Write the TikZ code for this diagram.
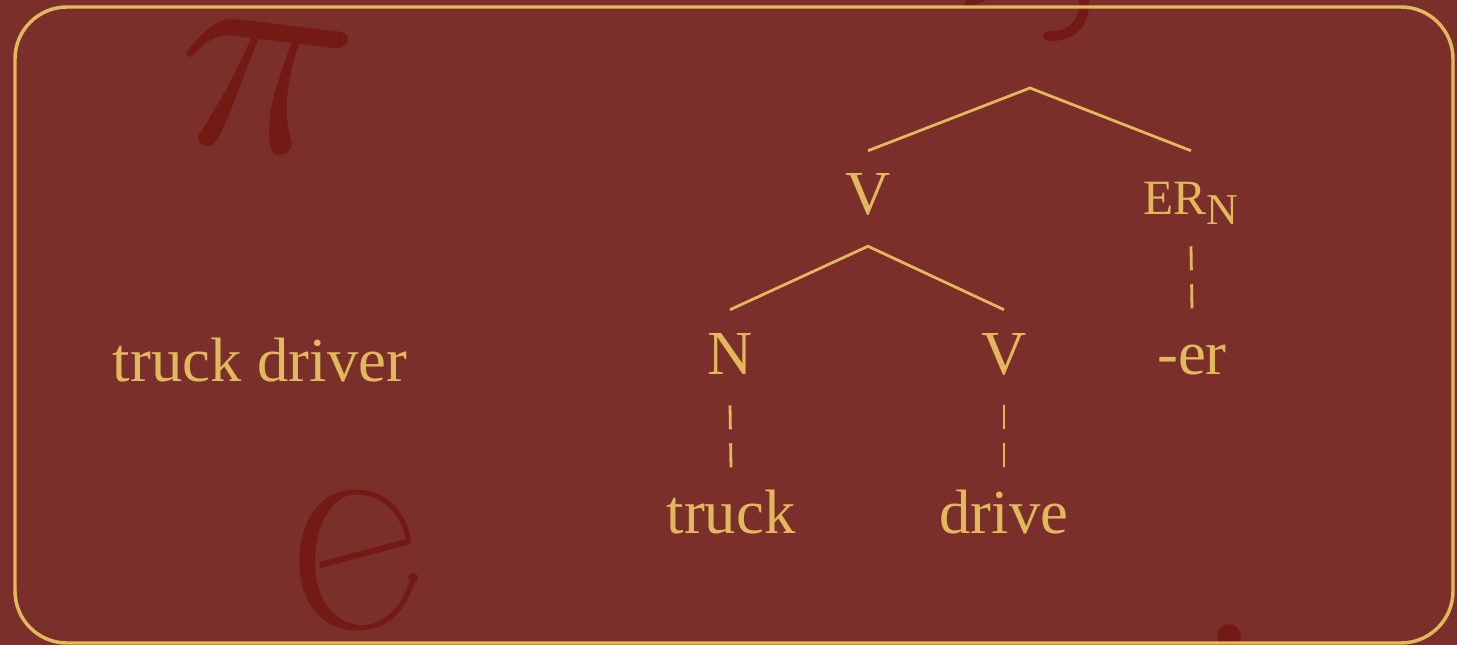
\documentclass[tikz,border=0pt]{standalone}
\usepackage{fontspec}
\setmainfont{Liberation Serif}

\definecolor{bgred}{HTML}{7B2F2B}
\definecolor{gold}{HTML}{E2B85C}
\definecolor{decored}{HTML}{731A14}

\tikzset{
  lbl/.style={anchor=base, text=gold, inner sep=18pt, text height=30pt, text depth=5.25pt,
    font=\fontsize{47}{56}\selectfont},
  branch/.style={draw=gold, line width=2.1pt},
  link/.style={draw=gold, line width=2.1pt, dash pattern=on 18pt off 10.5pt},
  deco/.style={text=decored, inner sep=0pt},
}

\begin{document}
\begin{tikzpicture}[x=0.75pt,y=0.75pt,yscale=-1,xscale=1]
\useasboundingbox (0,0) rectangle (1457,645);

% background
\fill[bgred] (0,0) rectangle (1457,645);

% Background letters
\node (pi) at (264,87) [deco, scale=22, rotate=-7] {$\pi$};
% big e
\draw [decored, line width=4.6pt] (320,565) -- (410,541) ;
\draw [decored, line width=3.8pt, line cap=round] (409,541) .. controls (402,508) and (382,492) .. (355,492) .. controls (322,492) and (302,522) .. (302,562) .. controls (302,603) and (325,628) .. (358,628) .. controls (385,628) and (405,610) .. (413,578) ;
\fill [decored] (355,491) .. controls (321,491) and (300,522) .. (300,562) .. controls (300,604) and (325,630) .. (358,630) -- (358,625) .. controls (334,622) and (315,600) .. (315,562) .. controls (315,524) and (332,496) .. (355,494) -- cycle ;
\fill [decored] (413,578) circle [radius=5] ;
% other glyph parts
\draw [decored, line width=7.5pt, line cap=round] (1084,-4) .. controls (1086,22) and (1074,37) .. (1048,36) ;
\draw [decored, line width=6pt, line cap=round] (968,4) -- (982,-2) ;
\fill [decored] (1229,636) circle [radius=12] ;

% Frame
\draw [gold, line width=2.6pt, rounded corners=39pt] (15,7) rectangle (1453,643) ;

% Text Node
\node (compound) at (260,382) [lbl] {truck driver};

% Tree
\coordinate (root) at (1030,88);
\node (vtop) at (868,215) [lbl] {V};
\node (ern) at (1191,215) [lbl] {{\fontsize{37}{40}\selectfont ER}\raisebox{-7.5pt}{\fontsize{33}{36}\selectfont N}};
\node (nn) at (730,374) [lbl] {N};
\node (vv) at (1004,374) [lbl] {V};
\node (suffix) at (1192,374) [lbl] {-er};
\node (truck) at (731,533) [lbl] {truck};
\node (drive) at (1004,533) [lbl] {drive};

\draw [branch] (vtop.north) -- (root) -- (ern.north) ;
\draw [branch] (nn.north) -- (vtop.south) -- (vv.north) ;
\draw [link] (ern.south) -- (suffix.north) ;
\draw [link] (nn.south) -- (truck.north) ;
\draw [link] (vv.south) -- (drive.north) ;
\end{tikzpicture}
\end{document}
